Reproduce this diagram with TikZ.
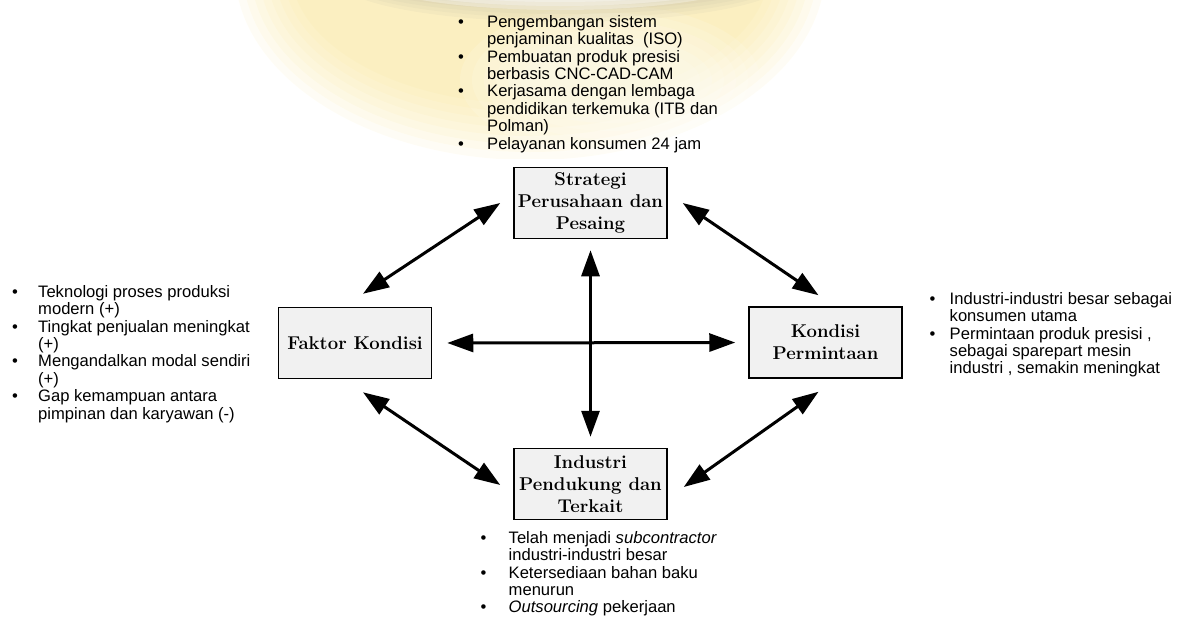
\documentclass[tikz,border=0pt]{standalone}
\usepackage{fontspec}
\newfontfamily\listfont{Liberation Sans}
\usetikzlibrary{positioning, arrows.meta}
\definecolor{ringyellow}{RGB}{247,222,125}
\definecolor{boxgray}{RGB}{241,241,241}
\tikzset{
  factor/.style = {draw, line width=1.5pt, fill=boxgray, minimum width=153pt, minimum height=71pt,
                   inner sep=1.5pt, align=center, font=\fontsize{18.5}{22}\selectfont\bfseries},
  arr/.style    = {{Triangle[length=26pt,width=18pt]}-{Triangle[length=26pt,width=18pt]}, line width=3pt},
  notes/.style  = {anchor=north west, inner sep=0pt, font=\listfont\fontsize{16.6}{17.4}\selectfont}
}

\begin{document}
\begin{tikzpicture}[x=1pt, y=-1pt]
  \useasboundingbox (0,0) rectangle (1190,616);
  % soft glow behind the top list
  \begin{scope}
    \clip (0,0) rectangle (1190,158);
    \foreach \k in {0,...,7}
      \fill[ringyellow, opacity=0.08] (530,-30) ellipse ({295-8*\k} and {190-8*\k});
    \foreach \k in {0,...,5}
      \fill[white, opacity=0.12] (610,80) ellipse ({150-12*\k} and {75-8*\k});
    \foreach \k in {0,...,5}
      \fill[gray, opacity=0.05] (563,-20) ellipse ({225-6*\k} and {42-4*\k});
    \foreach \k in {0,...,5}
      \fill[white, opacity=0.3] (560,-28) ellipse ({205-6*\k} and {38-4*\k});
  \end{scope}

  % the four factors
  \node[factor] (str) at (590.5,203)   {Strategi\\Perusahaan dan\\Pesaing};
  \node[factor] (fak) at (355,343)     {Faktor Kondisi};
  \node[factor] (kon) at (825.5,342.5) {Kondisi\\Permintaan};
  \node[factor] (ind) at (590.5,484)   {Industri\\Pendukung dan\\Terkait};

  % links
  \draw[arr, shorten <=15pt, shorten >=13pt] (fak.east) -- (kon.west);
  \draw[arr, shorten <=11pt, shorten >=11pt] (str.south) -- (ind.north);
  \draw[arr] ([shift={(8,-13)}]fak.north) -- ([shift={(-13,0)}]str.west);
  \draw[arr] ([shift={(15,0)}]str.east) -- ([shift={(-7,-11)}]kon.north);
  \draw[arr] ([shift={(8,13)}]fak.south) -- ([shift={(-13,1)}]ind.west);
  \draw[arr] ([shift={(-7,13)}]kon.south) -- ([shift={(16,3)}]ind.east);

  % notes
  \node[notes] (ntop) at (458,15) {\begin{tabular}{@{}p{29pt}@{}l@{}}
    \textbullet & Pengembangan sistem\\
                & penjaminan kualitas\ \ (ISO)\\
    \textbullet & Pembuatan produk presisi\\
                & berbasis CNC-CAD-CAM\\
    \textbullet & Kerjasama dengan lembaga\\
                & pendidikan terkemuka\ (ITB dan\\
                & Polman)\\
    \textbullet & Pelayanan konsumen\ 24 jam
  \end{tabular}};
  \node[notes] (nleft) at (12,285) {\begin{tabular}{@{}p{26pt}@{}l@{}}
    \textbullet & Teknologi proses produksi\\
                & modern (+)\\
    \textbullet & Tingkat penjualan meningkat\\
                & (+)\\
    \textbullet & Mengandalkan modal sendiri\\
                & (+)\\
    \textbullet & Gap kemampuan antara\\
                & pimpinan dan karyawan\ (-)
  \end{tabular}};
  \node[notes] (nright) at (929.5,292) {\begin{tabular}{@{}p{20pt}@{}l@{}}
    \textbullet & Industri-industri besar sebagai\\
                & konsumen utama\\
    \textbullet & Permintaan produk presisi ,\\
                & sebagai sparepart mesin\\
                & industri , semakin meningkat
  \end{tabular}};
  \node[notes] (nbot) at (480.5,531) {\begin{tabular}{@{}p{28pt}@{}l@{}}
    \textbullet & Telah menjadi \textit{subcontractor}\\
                & industri-industri besar\\
    \textbullet & Ketersediaan bahan baku\\
                & menurun\\
    \textbullet & \textit{Outsourcing} pekerjaan
  \end{tabular}};
\end{tikzpicture}
\end{document}
